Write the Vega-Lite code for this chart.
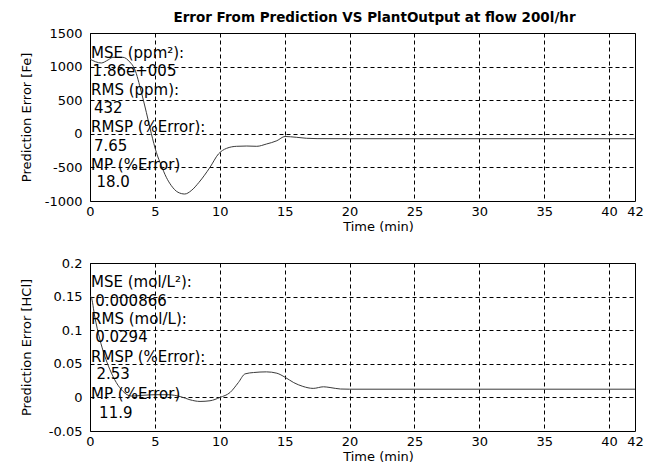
{
  "$schema": "https://vega.github.io/schema/vega-lite/v6.json",
  "background": "white",
  "padding": {"left": 19, "top": 11, "right": 5, "bottom": 5},
  "config": {
    "font": "DejaVu Sans",
    "view": {"stroke": "black", "strokeWidth": 1},
    "axis": {
      "grid": true, "gridColor": "black", "gridDash": [4, 3], "gridOpacity": 1, "gridWidth": 1,
      "domain": false, "ticks": false, "tickCount": 12,
      "labelFont": "DejaVu Sans", "labelFontSize": 13, "labelColor": "black",
      "labelFlush": false, "labelOverlap": false,
      "titleFont": "DejaVu Sans", "titleFontSize": 13, "titleFontWeight": "normal", "titleColor": "black"
    }
  },
  "title": {
    "text": "Error From Prediction VS PlantOutput at flow 200l/hr",
    "font": "DejaVu Sans", "fontSize": 13.5, "fontWeight": "bold", "color": "black",
    "anchor": "middle", "frame": "group", "dx": 12, "offset": 2
  },
  "datasets": {
    "fe": [
      {"t": 0, "v": 1110}, {"t": 0.87, "v": 1054}, {"t": 1.4, "v": 1100}, {"t": 1.77, "v": 1138},
      {"t": 2.54, "v": 1138}, {"t": 3.06, "v": 1070}, {"t": 3.44, "v": 964}, {"t": 3.96, "v": 618},
      {"t": 4.34, "v": 320}, {"t": 4.73, "v": 0}, {"t": 5.11, "v": -275}, {"t": 5.5, "v": -475},
      {"t": 5.88, "v": -647}, {"t": 6.27, "v": -772}, {"t": 6.78, "v": -870}, {"t": 7.3, "v": -896},
      {"t": 7.8, "v": -846}, {"t": 8.4, "v": -722}, {"t": 9.25, "v": -498}, {"t": 9.9, "v": -300},
      {"t": 10.53, "v": -216}, {"t": 11.3, "v": -186}, {"t": 12.08, "v": -182}, {"t": 12.85, "v": -186},
      {"t": 13.6, "v": -152}, {"t": 14.4, "v": -103}, {"t": 15.03, "v": -40}, {"t": 15.9, "v": -52},
      {"t": 16.7, "v": -67}, {"t": 17.5, "v": -72}, {"t": 20, "v": -73}, {"t": 42, "v": -73}
    ],
    "feText": [
      {"t": 0.08, "v": 1202, "label": "MSE (ppm²):"},
      {"t": 0.2, "v": 939, "label": "1.86e+005"},
      {"t": 0.08, "v": 652, "label": "RMS (ppm):"},
      {"t": 0.3, "v": 384, "label": "432"},
      {"t": 0.08, "v": 106, "label": "RMSP (%Error):"},
      {"t": 0.3, "v": -177, "label": "7.65"},
      {"t": 0.08, "v": -460, "label": "MP (%Error)"},
      {"t": 0.5, "v": -722, "label": "18.0"}
    ],
    "hcl": [
      {"t": 0, "v": 0.151}, {"t": 0.1, "v": 0.149}, {"t": 0.36, "v": 0.121}, {"t": 0.75, "v": 0.087},
      {"t": 1.13, "v": 0.062}, {"t": 1.52, "v": 0.042}, {"t": 2.03, "v": 0.022}, {"t": 2.54, "v": 0.009},
      {"t": 3.18, "v": 0.002}, {"t": 4.0, "v": 0.003}, {"t": 5.0, "v": 0.004}, {"t": 6.0, "v": 0.004},
      {"t": 7.0, "v": 0.001}, {"t": 7.7, "v": -0.0035}, {"t": 8.48, "v": -0.006}, {"t": 9.25, "v": -0.005},
      {"t": 10.02, "v": 0}, {"t": 10.8, "v": 0.0074}, {"t": 11.43, "v": 0.022}, {"t": 11.95, "v": 0.035},
      {"t": 12.6, "v": 0.037}, {"t": 13.6, "v": 0.038}, {"t": 14.4, "v": 0.036}, {"t": 15.03, "v": 0.030},
      {"t": 15.7, "v": 0.022}, {"t": 16.4, "v": 0.0164}, {"t": 17.2, "v": 0.0134}, {"t": 18.0, "v": 0.0158},
      {"t": 18.5, "v": 0.0147}, {"t": 19.3, "v": 0.0125}, {"t": 20, "v": 0.0122}, {"t": 42, "v": 0.0122}
    ],
    "hclText": [
      {"t": 0.08, "v": 0.1713, "label": "MSE (mol/L²):"},
      {"t": 0.4, "v": 0.1439, "label": "0.000866"},
      {"t": 0.08, "v": 0.1167, "label": "RMS (mol/L):"},
      {"t": 0.4, "v": 0.0894, "label": "0.0294"},
      {"t": 0.08, "v": 0.0606, "label": "RMSP (%Error):"},
      {"t": 0.5, "v": 0.0348, "label": "2.53"},
      {"t": 0.08, "v": 0.005, "label": "MP (%Error)"},
      {"t": 0.7, "v": -0.0232, "label": "11.9"}
    ]
  },
  "vconcat": [
    {
      "width": 545, "height": 168,
      "layer": [
        {
          "data": {"name": "fe"},
          "mark": {"type": "line", "color": "#3a3a3a", "strokeWidth": 1, "interpolate": "monotone"},
          "encoding": {
            "x": {"field": "t", "type": "quantitative",
                  "scale": {"domain": [0, 42], "nice": false, "zero": false},
                  "axis": {"title": "Time (min)", "values": [0, 5, 10, 15, 20, 25, 30, 35, 40, 42], "tickCount": 20,
                           "labelExpr": "'' + datum.value", "labelPadding": 4, "titlePadding": 2, "titleX": 288}},
            "y": {"field": "v", "type": "quantitative",
                  "scale": {"domain": [-1000, 1500], "nice": false, "zero": false},
                  "axis": {"title": "Prediction Error [Fe]", "values": [-1000, -500, 0, 500, 1000, 1500], "tickCount": 12,
                           "labelExpr": "'' + datum.value", "labelPadding": 8, "titleX": -57}}
          }
        },
        {
          "data": {"name": "feText"},
          "mark": {"type": "text", "align": "left", "baseline": "middle", "font": "DejaVu Sans", "fontSize": 15, "color": "black"},
          "encoding": {
            "x": {"field": "t", "type": "quantitative"},
            "y": {"field": "v", "type": "quantitative"},
            "text": {"field": "label"}
          }
        }
      ]
    },
    {
      "width": 545, "height": 168,
      "layer": [
        {
          "data": {"name": "hcl"},
          "mark": {"type": "line", "color": "#3a3a3a", "strokeWidth": 1, "interpolate": "monotone"},
          "encoding": {
            "x": {"field": "t", "type": "quantitative",
                  "scale": {"domain": [0, 42], "nice": false, "zero": false},
                  "axis": {"title": "Time (min)", "values": [0, 5, 10, 15, 20, 25, 30, 35, 40, 42], "tickCount": 20,
                           "labelExpr": "'' + datum.value", "labelPadding": 4, "titlePadding": 2, "titleX": 288}},
            "y": {"field": "v", "type": "quantitative",
                  "scale": {"domain": [-0.05, 0.2], "nice": false, "zero": false},
                  "axis": {"title": "Prediction Error [HCl]", "values": [-0.05, 0, 0.05, 0.1, 0.15, 0.2], "tickCount": 12,
                           "labelExpr": "'' + datum.value", "labelPadding": 8, "titleX": -57}}
          }
        },
        {
          "data": {"name": "hclText"},
          "mark": {"type": "text", "align": "left", "baseline": "middle", "font": "DejaVu Sans", "fontSize": 15, "color": "black"},
          "encoding": {
            "x": {"field": "t", "type": "quantitative"},
            "y": {"field": "v", "type": "quantitative"},
            "text": {"field": "label"}
          }
        }
      ]
    }
  ],
  "spacing": 62,
  "bounds": "flush"
}
